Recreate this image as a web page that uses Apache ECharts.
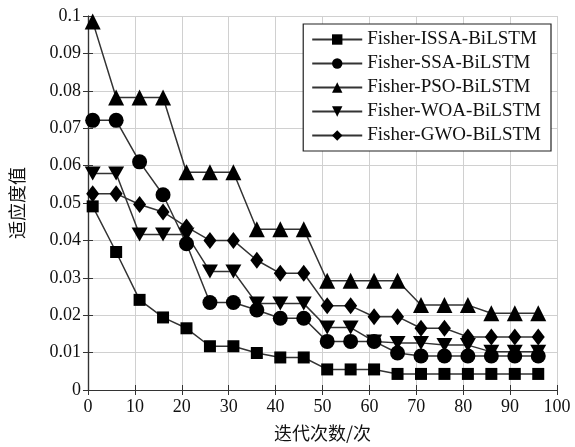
<!DOCTYPE html>
<html>
<head>
<meta charset="utf-8">
<script src="https://cdn.jsdelivr.net/npm/echarts@6/dist/echarts.min.js"></script>
<style>html,body{margin:0;padding:0;background:#fff}#c{width:575px;height:447px}</style>
</head>
<body>
<div id="c"></div>
<script>
const iterations = [1,6,11,16,21,26,31,36,41,46,51,56,61,66,71,76,81,86,91,96];
const issa = [0.0491,0.0369,0.0241,0.0194,0.0165,0.0117,0.0117,0.0099,0.0087,0.0087,0.0055,0.0055,0.0055,0.0043,0.0043,0.0043,0.0043,0.0043,0.0043,0.0043];
const ssa  = [0.0721,0.0721,0.0610,0.0522,0.0391,0.0234,0.0234,0.0214,0.0192,0.0192,0.0130,0.0130,0.0130,0.0099,0.0091,0.0091,0.0091,0.0091,0.0091,0.0091];
const pso  = [0.0985,0.0782,0.0782,0.0782,0.0582,0.0582,0.0582,0.0430,0.0430,0.0430,0.0292,0.0292,0.0292,0.0292,0.0227,0.0227,0.0227,0.0205,0.0205,0.0205];
const woa  = [0.0579,0.0579,0.0416,0.0416,0.0416,0.0317,0.0317,0.0231,0.0231,0.0231,0.0167,0.0167,0.0130,0.0126,0.0126,0.0120,0.0120,0.0102,0.0102,0.0102];
const gwo  = [0.0525,0.0525,0.0496,0.0476,0.0436,0.0400,0.0400,0.0347,0.0312,0.0312,0.0225,0.0225,0.0196,0.0196,0.0165,0.0165,0.0142,0.0142,0.0142,0.0142];
const seriesNames = ['Fisher-ISSA-BiLSTM','Fisher-SSA-BiLSTM','Fisher-PSO-BiLSTM','Fisher-WOA-BiLSTM','Fisher-GWO-BiLSTM'];
const xTicks = [0,10,20,30,40,50,60,70,80,90,100];
const yTicks = [0,0.01,0.02,0.03,0.04,0.05,0.06,0.07,0.08,0.09,0.1];

const serif = 'Liberation Serif, serif';
const cjk = 'Noto Sans CJK SC, sans-serif';
const datasets = [issa, ssa, pso, woa, gwo];
const symbols = ['rect','circle','triangle','path://M0,0 L10,0 L5,9 Z','diamond'];
const sizes = [12, 15, 16, [16,14], [13,17]];

const chart = echarts.init(document.getElementById('c'));
const axisLine = {show:true, lineStyle:{color:'#333', width:1.2}};
const split = {show:true, lineStyle:{color:'#d0d0d0', width:1}};
chart.setOption({
  animation:false,
  backgroundColor:'#fff',
  grid:{left:86, right:18, top:16, bottom:56, containLabel:false},
  legend:{
    orient:'vertical', right:24, top:24,
    backgroundColor:'#fff', borderColor:'#222', borderWidth:1.2,
    padding:[6,10,6,8], itemGap:5, itemWidth:50, itemHeight:13,
    textStyle:{fontFamily:serif, fontSize:19, color:'#111', lineHeight:18},
    data:seriesNames
  },
  xAxis:[{
    type:'value', min:xTicks[0], max:xTicks[xTicks.length-1], interval:10,
    name:'迭代次数/次', nameLocation:'middle', nameGap:34,
    nameTextStyle:{fontFamily:cjk, fontSize:18, color:'#111'},
    axisLine:axisLine, axisTick:{show:true, inside:true, length:5, lineStyle:{color:'#333'}},
    axisLabel:{fontFamily:serif, fontSize:18, color:'#111', margin:8},
    splitLine:split
  },{
    type:'value', position:'top', min:0, max:100, interval:10,
    axisLine:axisLine, axisTick:{show:true, inside:true, length:5, lineStyle:{color:'#333'}},
    axisLabel:{show:false}, splitLine:{show:false}
  }],
  yAxis:[{
    type:'value', min:yTicks[0], max:yTicks[yTicks.length-1], interval:0.01,
    name:'适应度值', nameLocation:'middle', nameGap:62, nameRotate:90,
    nameTextStyle:{fontFamily:cjk, fontSize:18, color:'#111'},
    axisLine:axisLine, axisTick:{show:true, inside:true, length:5, lineStyle:{color:'#333'}},
    axisLabel:{fontFamily:serif, fontSize:18, color:'#111', margin:7,
      formatter:v=>String(+v.toFixed(2))},
    splitLine:split
  },{
    type:'value', position:'right', min:0, max:0.1, interval:0.01,
    axisLine:axisLine, axisTick:{show:true, inside:true, length:5, lineStyle:{color:'#333'}},
    axisLabel:{show:false}, splitLine:{show:false}
  }],
  series: seriesNames.map((n,i)=>({
    name:n, type:'line', xAxisIndex:0, yAxisIndex:0,
    data: iterations.map((x,j)=>[x, datasets[i][j]]),
    symbol:symbols[i], symbolSize:sizes[i],
    lineStyle:{color:'#333', width:1.5},
    itemStyle:{color:'#000', borderWidth:0},
    emphasis:{disabled:true}
  }))
});
</script>
</body>
</html>
